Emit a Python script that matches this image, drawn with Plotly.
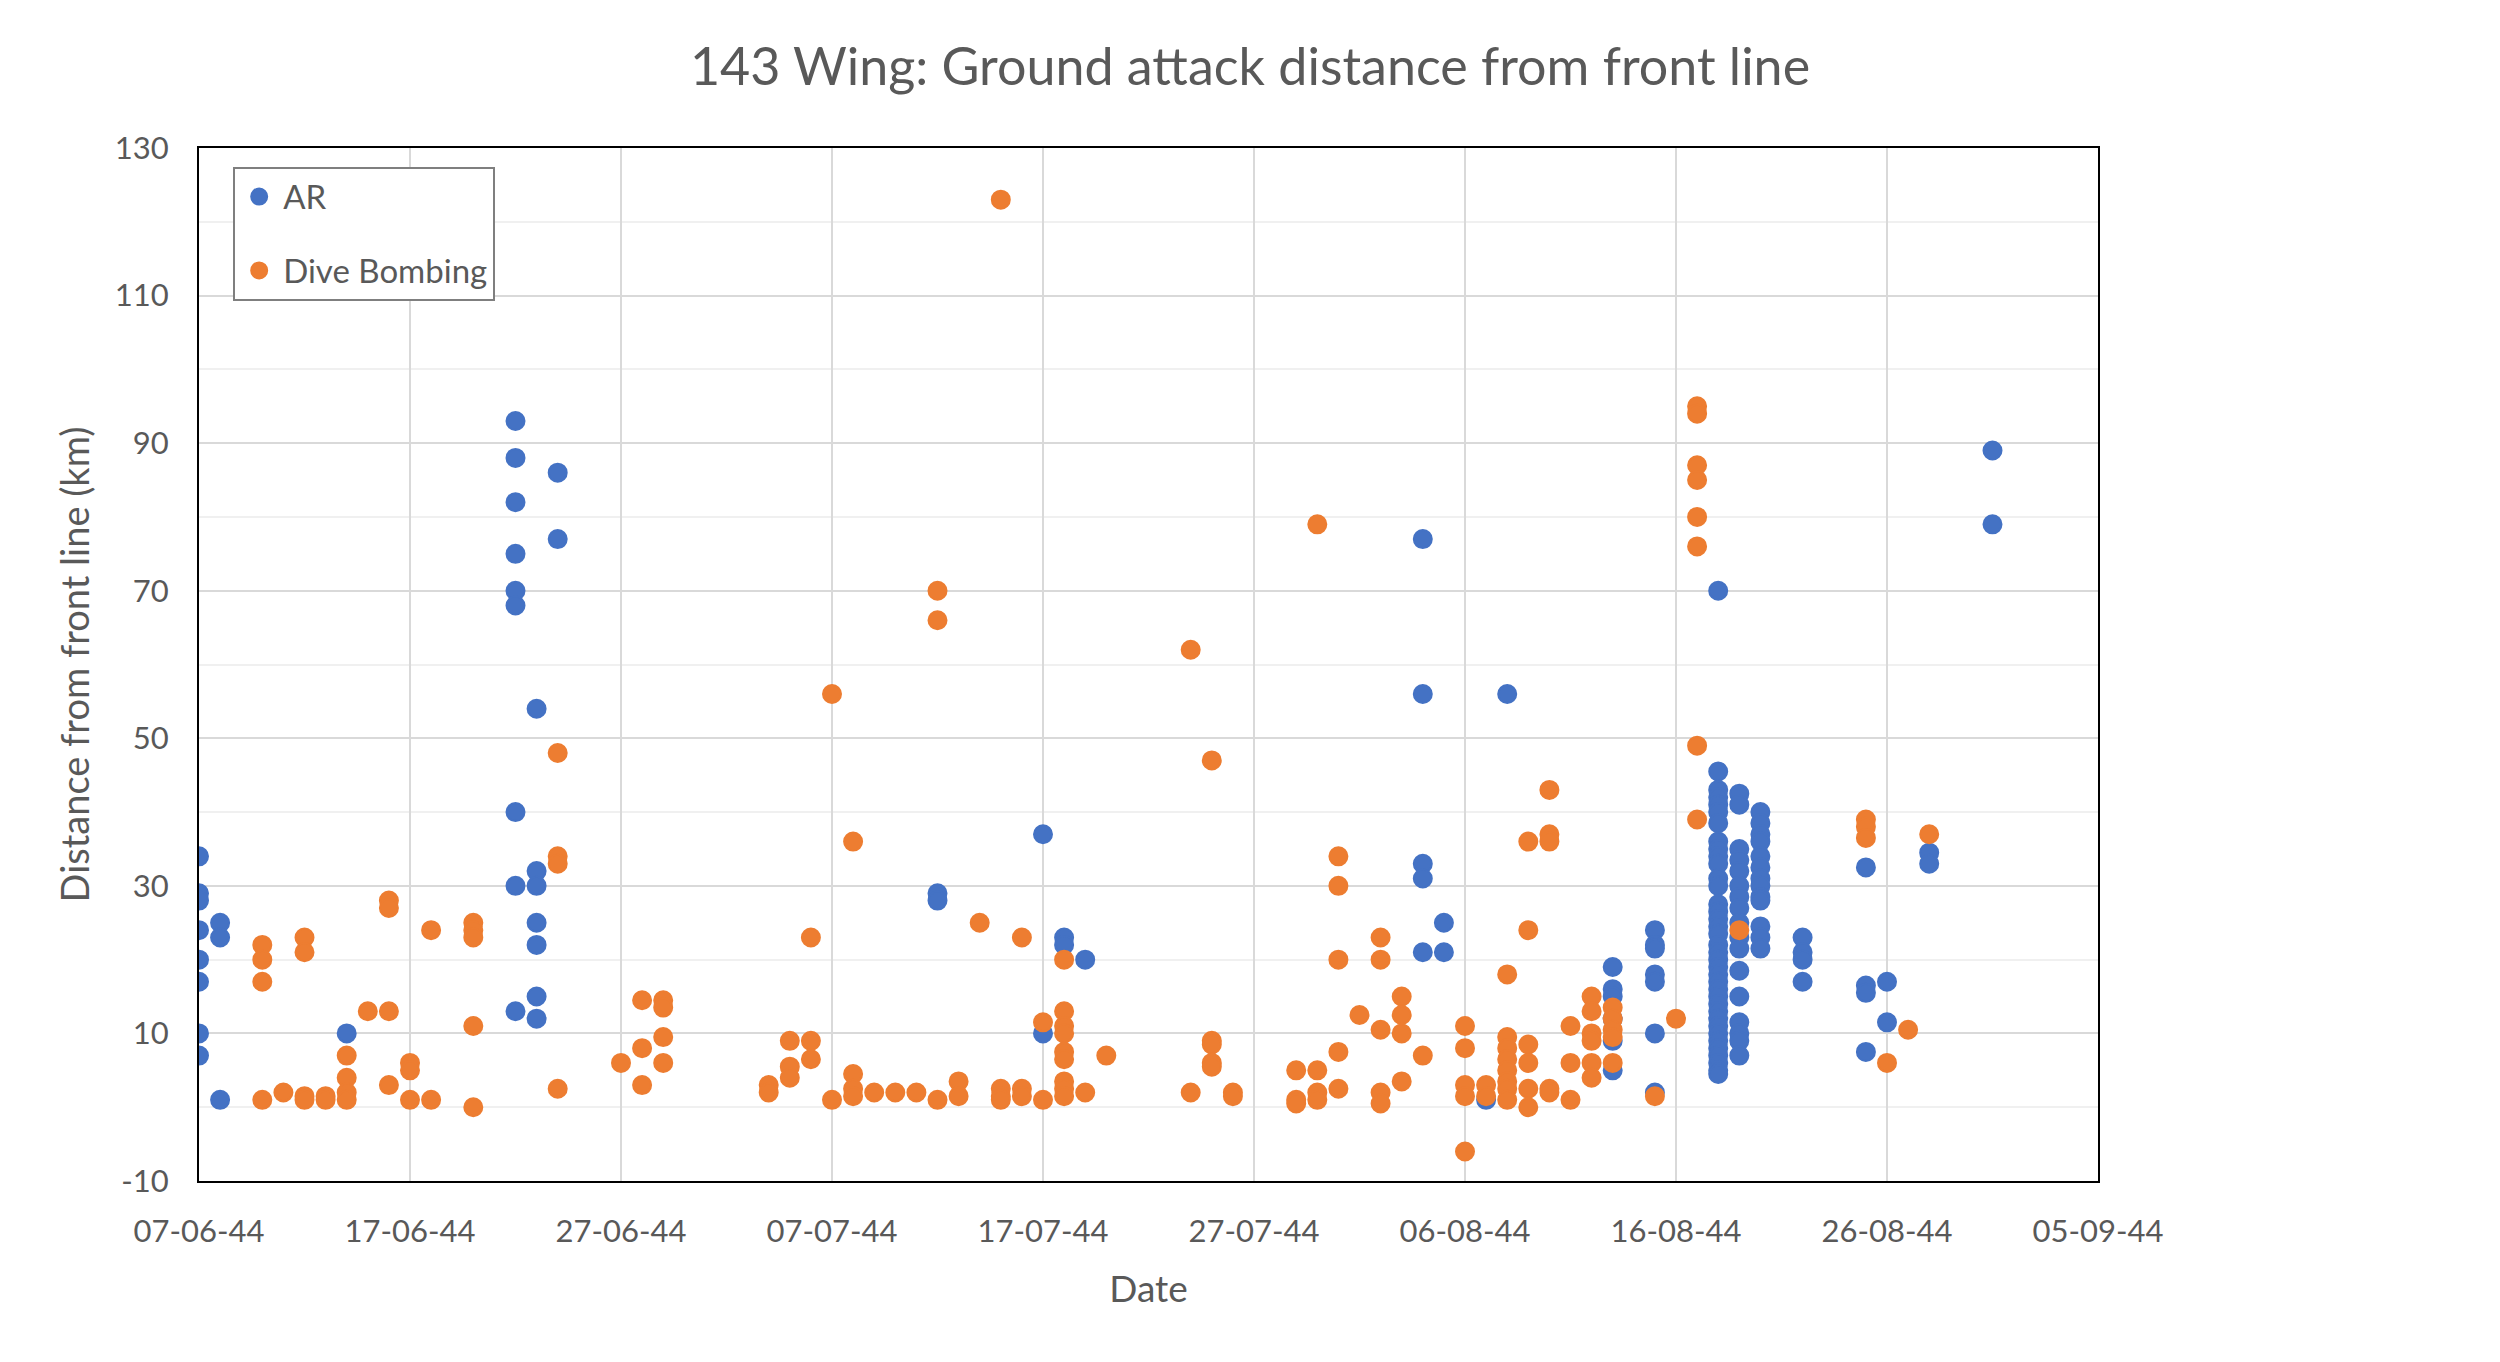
import plotly.graph_objects as go

# ---- Data (dates dd-mm-1944) ----
ar_dates = ["1944-06-07", "1944-06-08", "1944-06-14", "1944-06-22", "1944-06-23", "1944-06-24",
            "1944-07-12", "1944-07-17", "1944-07-18", "1944-07-19",
            "1944-08-04", "1944-08-05", "1944-08-07", "1944-08-08", "1944-08-13", "1944-08-15",
            "1944-08-18", "1944-08-19", "1944-08-20", "1944-08-22", "1944-08-25", "1944-08-26",
            "1944-08-28", "1944-08-31"]
ar_values = [
    [34, 29, 28, 24, 20, 17, 10, 7],
    [25, 23, 1],
    [10],
    [93, 88, 82, 75, 70, 68, 40, 30, 13],
    [54, 32, 30, 25, 22, 15, 12],
    [86, 77],
    [29, 28],
    [37, 10],
    [23, 22],
    [20],
    [77, 56, 33, 31, 21],
    [25, 21],
    [1],
    [56],
    [19, 16, 15, 12, 9, 5],
    [24, 22, 21.5, 18, 17, 10, 2],
    [70, 45.5, 43, 42, 41, 40, 38.5, 36, 35, 34, 33, 31, 30, 27.5, 26.5, 25.5, 24.5, 23.5, 22,
     21, 20, 19, 18, 17, 16, 15, 14, 13, 12, 11, 10, 9, 8, 7, 6, 5, 4.5],
    [42.5, 41, 35, 33.5, 32, 30, 28.5, 27, 25, 23, 21.5, 18.5, 15, 11.5, 10, 9, 7],
    [40, 38.5, 37, 36, 34, 32.5, 31, 30, 28.5, 28, 24.5, 23, 21.5],
    [23, 21, 20, 17],
    [32.5, 16.5, 15.5, 7.5],
    [17, 11.5],
    [34.5, 33],
    [89, 79],
]

db_dates = ["1944-06-10", "1944-06-11", "1944-06-12", "1944-06-13", "1944-06-14", "1944-06-15",
            "1944-06-16", "1944-06-17", "1944-06-18", "1944-06-20", "1944-06-24", "1944-06-27",
            "1944-06-28", "1944-06-29", "1944-07-04", "1944-07-05", "1944-07-06", "1944-07-07",
            "1944-07-08", "1944-07-09", "1944-07-10", "1944-07-11", "1944-07-12", "1944-07-13",
            "1944-07-14", "1944-07-15", "1944-07-16", "1944-07-17", "1944-07-18", "1944-07-19",
            "1944-07-20", "1944-07-24", "1944-07-25", "1944-07-26", "1944-07-29", "1944-07-30",
            "1944-07-31", "1944-08-01", "1944-08-02", "1944-08-03", "1944-08-04", "1944-08-06",
            "1944-08-07", "1944-08-08", "1944-08-09", "1944-08-10", "1944-08-11", "1944-08-12",
            "1944-08-13", "1944-08-15", "1944-08-16", "1944-08-17", "1944-08-19", "1944-08-25",
            "1944-08-26", "1944-08-27", "1944-08-28"]
db_values = [
    [22, 20, 17, 1],
    [2],
    [23, 21, 1.5, 1],
    [1.5, 1],
    [7, 4, 2, 1],
    [13],
    [28, 27, 13, 3],
    [6, 5, 1],
    [24, 1],
    [25, 24, 23, 11, 0],
    [48, 34, 33, 2.5],
    [6],
    [14.5, 8, 3],
    [14.5, 13.5, 9.5, 6],
    [3, 2],
    [9, 5.5, 4],
    [23, 9, 6.5],
    [56, 1],
    [36, 4.5, 2.5, 1.5],
    [2],
    [2],
    [2],
    [70, 66, 1],
    [3.5, 1.5],
    [25],
    [123, 2.5, 1.5, 1],
    [23, 2.5, 1.5],
    [11.5, 1],
    [20, 13, 11, 10, 7.5, 6.5, 3.5, 2.5, 1.5],
    [2],
    [7],
    [62, 2],
    [47, 9, 8.5, 6, 5.5],
    [2, 1.5],
    [5, 1, 0.5],
    [79, 5, 2, 1],
    [34, 30, 20, 7.5, 2.5],
    [12.5],
    [23, 20, 10.5, 2, 0.5],
    [15, 12.5, 10, 3.5],
    [7],
    [11, 8, 3, 1.5, -6],
    [3, 1.5],
    [18, 9.5, 8, 6.5, 5, 3.5, 2.5, 1],
    [36, 24, 8.5, 6, 2.5, 0],
    [43, 37, 36, 2.5, 2],
    [11, 6, 1],
    [15, 13, 10, 9, 6, 4],
    [13.5, 12, 10.5, 9.5, 6],
    [1.5],
    [12],
    [95, 94, 87, 85, 80, 76, 49, 39],
    [24],
    [39, 38, 36.5],
    [6],
    [10.5],
    [37],
]

x_ticks = ["1944-06-07", "1944-06-17", "1944-06-27", "1944-07-07", "1944-07-17", "1944-07-27",
           "1944-08-06", "1944-08-16", "1944-08-26", "1944-09-05"]
y_ticks = [-10, 10, 30, 50, 70, 90, 110, 130]
y_tick_labels = ["-10", "10", "30", "50", "70", "90", "110", "130"]


def expand(dates, values):
    xs, ys = [], []
    for d, vals in zip(dates, values):
        for v in vals:
            xs.append(d)
            ys.append(v)
    return xs, ys


ar_x, ar_y = expand(ar_dates, ar_values)
db_x, db_y = expand(db_dates, db_values)

FONT = "Lato, 'Open Sans', sans-serif"
GREY = "#595959"
BLUE = "#4472C4"
ORANGE = "#ED7D31"

fig = go.Figure()
fig.add_trace(go.Scatter(x=ar_x, y=ar_y, mode="markers", name="AR", legendgroup="a",
                         marker=dict(color=BLUE, size=18, line=dict(color=BLUE, width=2))))
fig.add_trace(go.Scatter(x=db_x, y=db_y, mode="markers", name="Dive Bombing", legendgroup="b",
                         marker=dict(color=ORANGE, size=18, line=dict(color=ORANGE, width=2))))

fig.update_layout(
    width=2500, height=1362,
    margin=dict(l=199, r=402, t=148, b=181),
    paper_bgcolor="white", plot_bgcolor="white",
    font=dict(family=FONT, color=GREY, size=32),
    title=dict(text="143 Wing: Ground attack distance from front line",
               x=0.5, xref="container", xanchor="center",
               y=1 - 67 / 1362, yref="container", yanchor="middle",
               font=dict(size=52, color=GREY, family=FONT)),
    showlegend=True,
    legend=dict(x=0.018, y=0.982, xanchor="left", yanchor="top",
                bordercolor="#7F7F7F", borderwidth=2, bgcolor="white",
                font=dict(size=33, color=GREY), tracegroupgap=28,
                itemsizing="trace", itemwidth=38),
)

fig.update_xaxes(
    type="date",
    range=["1944-06-07", "1944-09-05"],
    tickvals=x_ticks,
    tickformat="%d-%m-%y",
    showgrid=True, gridcolor="#D9D9D9", gridwidth=2,
    showline=True, linecolor="black", linewidth=2, mirror=True,
    ticks="", ticklabelstandoff=22,
    tickfont=dict(size=31, color=GREY),
    zeroline=False,
    title=dict(text="Date", standoff=28, font=dict(size=37, color=GREY)),
)

fig.update_yaxes(
    range=[-10, 130],
    tickvals=y_ticks, ticktext=y_tick_labels,
    showgrid=True, gridcolor="#D9D9D9", gridwidth=2,
    minor=dict(dtick=10, tick0=-10, showgrid=True, gridcolor="#F0F0F0", gridwidth=2),
    showline=True, linecolor="black", linewidth=2, mirror=True,
    ticks="", ticklabelstandoff=22,
    tickfont=dict(size=31, color=GREY),
    zeroline=False,
    title=dict(text="Distance from front line (km)", standoff=14, font=dict(size=38, color=GREY)),
)

fig.write_html("out.html")
